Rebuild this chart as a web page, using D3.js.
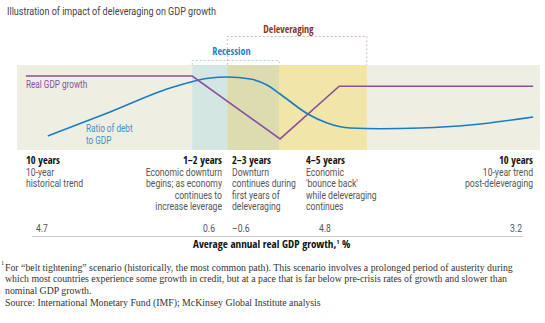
<!DOCTYPE html>
<html>
<head>
<meta charset="utf-8">
<script src="https://cdn.jsdelivr.net/npm/d3@7"></script>
<style>
body { margin: 0; background: #fff; }
svg text { font-family: Roboto, "Liberation Sans", sans-serif; }
svg text.bold { font-family: "Open Sans Condensed", Roboto, sans-serif; font-weight: bold; }
svg text.serif { font-family: "Liberation Serif", "DejaVu Serif", serif; }
</style>
</head>
<body>
<div id="container"></div>
<script>
var width = 545, height = 323;

// timeline phases (x in abstract time units 0-100)
var bandRange = [0, 100];
var recession = [33.5, 50.1];
var deleveraging = [40.2, 66.9];

// Real GDP growth path (x, level)
var gdpX = [1.7, 33.5, 50.3, 61.6, 98.7];
var gdpY = [87, 87, 13, 75, 75];

// Ratio of debt to GDP path (x, level)
var debtX = [5.9, 17.8, 29.3, 36.9, 40.2, 44.6, 47.8, 50.3, 55.6, 59.3, 63.7, 69.4, 77.1, 86.6, 98.7];
var debtY = [16.5, 44.7, 72.9, 84.7, 85.9, 83.5, 76.5, 65.9, 42.4, 31.8, 25.9, 25, 25.9, 29.4, 38.8];

// phase labels under the chart
var periods = ["10 years", "1–2 years", "2–3 years", "4–5 years", "10 years"];
var notes = [
	["10-year", "historical trend"],
	["Economic downturn", "begins; as economy", "continues to", "increase leverage"],
	["Downturn", "continues during", "first years of", "deleveraging"],
	["Economic", "'bounce back'", "while deleveraging", "continues"],
	["10-year trend", "post-deleveraging"]
];
var growth = [4.7, 0.6, -0.6, 4.8, 3.2];

var xScale = d3.scaleLinear().domain([0, 100]).range([17, 540]);
var yScale = d3.scaleLinear().domain([0, 100]).range([150, 65]);

var K = 0.82; // horizontal squeeze for the condensed look
// append squeezed text at (x, y)
var ctext = function(parent, x, y, k) {
	k = k || K;
	return parent.append('text')
		.attr('transform', 'scale(' + k + ',1)')
		.attr('x', x / k).attr('y', y);
};

function visualize() {
	var svg = d3.select('#container')
		.append('svg')
		.attr('width', width)
		.attr('height', height);

	ctext(svg, 7, 15)
		.attr('font-size', 11)
		.attr('fill', '#444')
		.text('Illustration of impact of deleveraging on GDP growth');

	// background band and phase shading
	var top = yScale(100), h = yScale(0) - yScale(100);
	var shade = function(a, b, color) {
		svg.append('rect')
			.attr('x', xScale(a)).attr('y', top)
			.attr('width', xScale(b) - xScale(a)).attr('height', h)
			.attr('fill', color);
	};
	shade(bandRange[0], bandRange[1], '#efeee3');
	shade(recession[0], deleveraging[0], '#d3e6e2');
	shade(deleveraging[0], recession[1], '#dcdcb0');
	shade(recession[1], deleveraging[1], '#f2e5a8');

	// brackets
	var bracket = function(range, y, color) {
		var x0 = xScale(range[0]), x1 = xScale(range[1]);
		svg.append('path')
			.attr('d', 'M' + x0 + ',' + top + 'V' + y + 'H' + x1 + 'V' + top)
			.attr('fill', 'none')
			.attr('stroke', color)
			.attr('stroke-width', 0.8)
			.attr('stroke-dasharray', '2,2');
	};
	bracket(deleveraging, 36.5, '#c9aaa2');
	bracket(recession, 60.5, '#9fc7e3');
	ctext(svg, 288.5, 33, 0.86).attr('class', 'bold')
		.attr('text-anchor', 'middle').attr('font-size', 11.5)
		.attr('fill', '#8a3324').text('Deleveraging');
	ctext(svg, 231.5, 55, 0.88).attr('class', 'bold')
		.attr('text-anchor', 'middle').attr('font-size', 11.5)
		.attr('fill', '#1f7fc6').text('Recession');

	// lines
	var gdp = gdpX.map(function(d, i) { return {x: d, y: gdpY[i]}; });
	var debt = debtX.map(function(d, i) { return {x: d, y: debtY[i]}; });
	var line = d3.line()
		.x(function(d) { return xScale(d.x); })
		.y(function(d) { return yScale(d.y); });
	var curve = d3.line()
		.curve(d3.curveMonotoneX)
		.x(function(d) { return xScale(d.x); })
		.y(function(d) { return yScale(d.y); });
	svg.append('path')
		.attr('d', curve(debt))
		.attr('stroke', '#1a7cc6').attr('stroke-width', 1.6)
		.attr('fill', 'none');
	svg.append('path')
		.attr('d', line(gdp))
		.attr('stroke', '#8b4f9e').attr('stroke-width', 1.6)
		.attr('fill', 'none');

	ctext(svg, 26, 88)
		.attr('font-size', 10).attr('fill', '#8b4f9e')
		.text('Real GDP growth');
	ctext(svg, 86, 132)
		.attr('font-size', 10).attr('fill', '#3d90cf')
		.text('Ratio of debt');
	ctext(svg, 86, 144)
		.attr('font-size', 10).attr('fill', '#3d90cf')
		.text('to GDP');

	// period columns
	var colX = [26, 222, 232, 306, 533];
	var colAnchor = ['start', 'end', 'start', 'start', 'end'];
	periods.forEach(function(p, i) {
		ctext(svg, colX[i], 164, 0.95).attr('class', 'bold')
			.attr('text-anchor', colAnchor[i])
			.attr('font-size', 11).attr('fill', '#111')
			.text(p);
		notes[i].forEach(function(n, j) {
			ctext(svg, colX[i], 176 + j * 11.5)
				.attr('text-anchor', colAnchor[i])
				.attr('font-size', 10.5).attr('fill', '#555')
				.text(n);
		});
	});

	// growth values
	var valX = [36, 215, 232, 319, 522];
	var valAnchor = ['start', 'end', 'start', 'start', 'end'];
	var fmt = function(v) { return (v < 0 ? '–' : '') + d3.format('.1f')(Math.abs(v)); };
	growth.forEach(function(v, i) {
		ctext(svg, valX[i], 232.5)
			.attr('text-anchor', valAnchor[i])
			.attr('font-size', 10.5).attr('fill', '#555')
			.text(fmt(v));
	});
	svg.append('line')
		.attr('x1', 32).attr('x2', 523).attr('y1', 236.5).attr('y2', 236.5)
		.attr('stroke', '#ccc').attr('stroke-width', 1);
	var ax = svg.append('text').attr('class', 'bold')
		.attr('x', 193).attr('y', 248)
		.attr('font-size', 11).attr('fill', '#111');
	ax.append('tspan').text('Average annual real GDP growth,');
	ax.append('tspan').attr('font-size', 6).attr('dy', -4).attr('font-weight', 'normal').text('1');
	ax.append('tspan').attr('dy', 4).attr('font-weight', 'normal').text(' %');

	// footnote and source
	var foot = [
		'For \u201cbelt tightening\u201d scenario (historically, the most common path). This scenario involves a prolonged period of austerity during',
		'which most countries experience some growth in credit, but at a pace that is far below pre-crisis rates of growth and slower than',
		'nominal GDP growth.'
	];
	svg.append('text').attr('class', 'serif')
		.attr('x', 1).attr('y', 265).attr('font-size', 6).attr('fill', '#333').text('1');
	foot.forEach(function(f, i) {
		svg.append('text').attr('class', 'serif')
			.attr('x', 5).attr('y', 271 + i * 11.3)
			.attr('font-size', 9.8).attr('fill', '#333')
			.text(f);
	});
	svg.append('text').attr('class', 'serif')
		.attr('x', 5).attr('y', 306)
		.attr('font-size', 9.8).attr('fill', '#333')
		.text('Source: International Monetary Fund (IMF); McKinsey Global Institute analysis');
}

window.onload = visualize;
</script>
</body>
</html>
